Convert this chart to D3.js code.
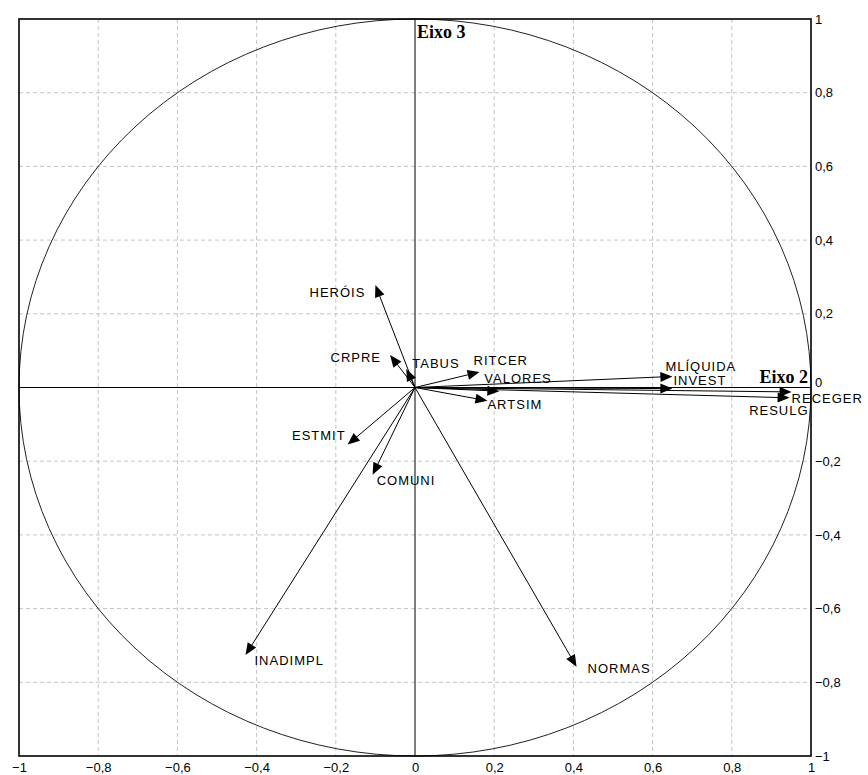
<!DOCTYPE html>
<html>
<head>
<meta charset="utf-8">
<script src="https://cdn.jsdelivr.net/npm/d3@7"></script>
<style>
  html, body { margin: 0; padding: 0; background: #fff; }
  svg { display: block; }
</style>
</head>
<body>
<svg id="chart" width="868" height="775"></svg>
<script>
// Variable loadings on the factorial plane (Eixo 2 × Eixo 3)
const variables = ["HERÓIS", "CRPRE", "TABUS", "RITCER", "VALORES", "ARTSIM", "ESTMIT",
                   "COMUNI", "INADIMPL", "NORMAS", "MLÍQUIDA", "INVEST", "RECEGER", "RESULG"];
const eixo2 = [-0.100, -0.063, -0.022, 0.163, 0.213, 0.183, -0.170,
               -0.107, -0.428, 0.408, 0.650, 0.650, 0.951, 0.946];
const eixo3 = [0.278, 0.088, 0.050, 0.042, -0.010, -0.036, -0.155,
               -0.237, -0.726, -0.758, 0.030, -0.003, -0.012, -0.028];
const tickValues = [-1, -0.8, -0.6, -0.4, -0.2, 0, 0.2, 0.4, 0.6, 0.8, 1];
const axisTitles = ["Eixo 2", "Eixo 3"];

// label placement relative to each arrow tip (pixels)
const labelPlacement = {
  "HERÓIS":   { anchor: "end",   dx: -10, dy: 7 },
  "CRPRE":    { anchor: "end",   dx: -9,  dy: 2 },
  "TABUS":    { anchor: "start", dx: 6,   dy: -6 },
  "RITCER":   { anchor: "start", dx: -6,  dy: -12 },
  "VALORES":  { anchor: "start", dx: -15, dy: -13 },
  "ARTSIM":   { anchor: "start", dx: 0,   dy: 4 },
  "ESTMIT":   { anchor: "end",   dx: -2,  dy: -9 },
  "COMUNI":   { anchor: "start", dx: 4,   dy: 6 },
  "INADIMPL": { anchor: "start", dx: 9,   dy: 5 },
  "NORMAS":   { anchor: "start", dx: 11,  dy: 2 },
  "MLÍQUIDA": { anchor: "start", dx: -7,  dy: -10 },
  "INVEST":   { anchor: "start", dx: 1,   dy: -8 },
  "RECEGER":  { anchor: "start", dx: 0,   dy: 7 },
  "RESULG":   { anchor: "end",   dx: 19,  dy: 13 }
};

const SANS = "'Liberation Sans', Arial, sans-serif";
const SERIF = "'Liberation Serif', 'Times New Roman', serif";

const svg = d3.select("#chart");
const frame = { left: 19, right: 811, top: 19, bottom: 756 };

const x = d3.scaleLinear().domain([-1, 1]).range([frame.left, frame.right]);
const y = d3.scaleLinear().domain([-1, 1]).range([frame.bottom, frame.top]);

const locale = d3.formatLocale({ decimal: ",", thousands: ".", grouping: [3], currency: ["", ""] });
const fmt = v => (v === 0 ? "0" : locale.format("~g")(+v.toFixed(1)));

// dashed grid
const grid = svg.append("g").attr("stroke", "#c4c4c4").attr("stroke-width", 1)
  .attr("stroke-dasharray", "4,3").attr("fill", "none");
tickValues.filter(v => v !== 0 && Math.abs(v) !== 1).forEach(v => {
  grid.append("line").attr("x1", x(v)).attr("x2", x(v)).attr("y1", frame.top).attr("y2", frame.bottom);
  grid.append("line").attr("x1", frame.left).attr("x2", frame.right).attr("y1", y(v)).attr("y2", y(v));
});

// correlation circle
svg.append("ellipse")
  .attr("cx", x(0)).attr("cy", y(0))
  .attr("rx", x(1) - x(0)).attr("ry", y(0) - y(1))
  .attr("fill", "none").attr("stroke", "#222").attr("stroke-width", 1);

// axes through the origin
svg.append("line").attr("x1", frame.left).attr("x2", frame.right).attr("y1", y(0)).attr("y2", y(0))
  .attr("stroke", "#000").attr("stroke-width", 1);
svg.append("line").attr("x1", x(0)).attr("x2", x(0)).attr("y1", frame.top).attr("y2", frame.bottom)
  .attr("stroke", "#000").attr("stroke-width", 1);

// frame
svg.append("rect").attr("x", frame.left).attr("y", frame.top)
  .attr("width", frame.right - frame.left).attr("height", frame.bottom - frame.top)
  .attr("fill", "none").attr("stroke", "#000").attr("stroke-width", 1.6);

// tick labels: right and bottom
const rightAxis = d3.axisRight(y).tickValues(tickValues).tickSize(0).tickPadding(4).tickFormat(fmt);
const gR = svg.append("g").attr("transform", `translate(${frame.right},0)`).call(rightAxis);
const bottomAxis = d3.axisBottom(x).tickValues(tickValues).tickSize(0).tickPadding(7).tickFormat(fmt);
const gB = svg.append("g").attr("transform", `translate(0,${frame.bottom})`).call(bottomAxis);
[gR, gB].forEach(g => {
  g.attr("font-family", null).attr("font-size", null);
  g.select(".domain").remove();
  g.selectAll("text").attr("fill", "#000")
    .style("font-family", SANS).style("font-size", "13px");
});
gR.selectAll(".tick").filter(v => v === 0).select("text").attr("dy", "-0.05em");

// vectors
const data = variables.map((name, i) => ({ name, a: eixo2[i], b: eixo3[i] }));
const vec = svg.append("g");
const headLen = 12, headHalf = 5;
data.forEach(d => {
  const x0 = x(0), y0 = y(0), x1 = x(d.a), y1 = y(d.b);
  const ang = Math.atan2(y1 - y0, x1 - x0);
  const ux = Math.cos(ang), uy = Math.sin(ang);
  vec.append("line").attr("x1", x0).attr("y1", y0)
    .attr("x2", x1 - ux * headLen * 0.6).attr("y2", y1 - uy * headLen * 0.6)
    .attr("stroke", "#000").attr("stroke-width", 1);
  const bx = x1 - ux * headLen, by = y1 - uy * headLen;
  vec.append("polygon")
    .attr("points", [[x1, y1], [bx - uy * headHalf, by + ux * headHalf], [bx + uy * headHalf, by - ux * headHalf]]
      .map(p => p.join(",")).join(" "))
    .attr("fill", "#000");
  const lp = labelPlacement[d.name];
  vec.append("text")
    .attr("x", x1 + lp.dx).attr("y", y1 + lp.dy)
    .attr("text-anchor", lp.anchor)
    .attr("dominant-baseline", "central")
    .style("font-family", SANS).style("font-size", "13px").style("letter-spacing", "1px")
    .attr("fill", "#000")
    .text(d.name);
});

// axis titles
svg.append("text").attr("x", frame.right - 3).attr("y", y(0) - 5)
  .attr("text-anchor", "end")
  .style("font-family", SERIF).style("font-weight", "bold").style("font-size", "18px")
  .attr("fill", "#000")
  .text(axisTitles[0]);
svg.append("text").attr("x", x(0) + 2).attr("y", frame.top + 19)
  .attr("text-anchor", "start")
  .style("font-family", SERIF).style("font-weight", "bold").style("font-size", "18px")
  .attr("fill", "#000")
  .text(axisTitles[1]);
</script>
</body>
</html>
